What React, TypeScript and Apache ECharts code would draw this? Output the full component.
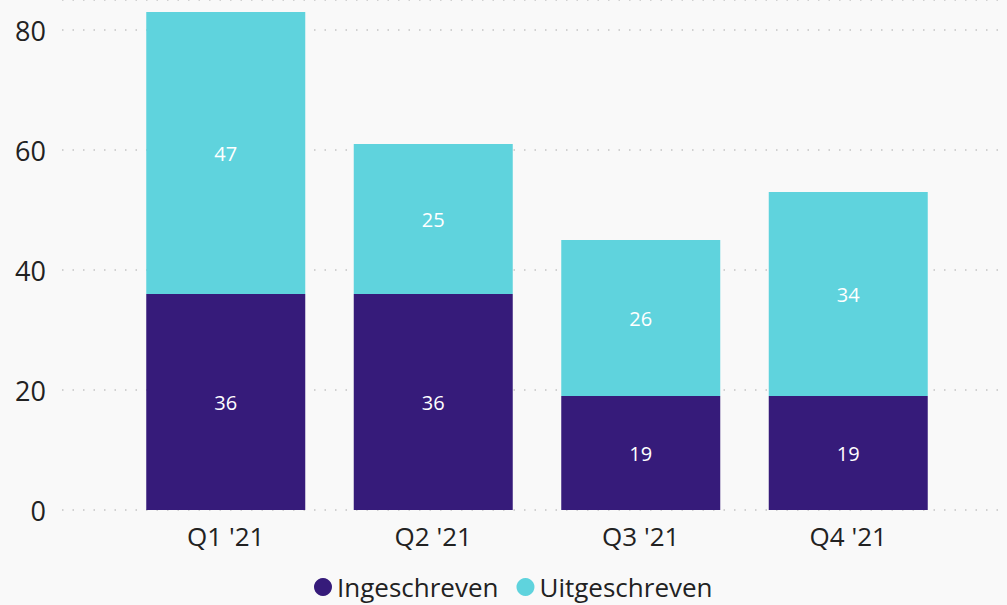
import React, { useEffect, useRef } from "react";
import * as echarts from "echarts";

const categories = ["Q1 '21", "Q2 '21", "Q3 '21", "Q4 '21"];
const ingeschreven = [36, 36, 19, 19];
const uitgeschreven = [47, 25, 26, 34];
const yTicks = [0, 20, 40, 60, 80];

const FONT = "'Segoe UI', 'Open Sans', 'Noto Sans', sans-serif";

export default function App() {
  const ref = useRef<HTMLDivElement>(null);
  useEffect(() => {
    document.body.style.margin = "0";
    const chart = echarts.init(ref.current!, null, { renderer: "svg" });
    chart.setOption({
      animation: false,
      backgroundColor: "#f9f9f9",
      legend: {
        left: 314,
        top: 574,
        padding: 0,
        itemGap: 18,
        itemWidth: 18,
        itemHeight: 18,
        icon: "circle",
        textStyle: { fontFamily: FONT, fontSize: 26, lineHeight: 26, color: "#222" },
        data: ["Ingeschreven", "Uitgeschreven"],
      },
      grid: [
        { left: 122, right: 55, top: 0, bottom: 95 },
        { left: 62, right: 0, top: 0, bottom: 95 },
      ],
      xAxis: [
        {
          type: "category",
          gridIndex: 0,
          data: categories,
          axisLine: { show: false },
          axisTick: { show: false },
          axisLabel: { fontFamily: FONT, fontSize: 26, color: "#222", margin: 13 },
        },
        { type: "value", gridIndex: 1, show: false, min: 0, max: 1 },
      ],
      yAxis: [
        { type: "value", gridIndex: 0, min: 0, max: 85, show: false, splitLine: { show: false } },
        {
          type: "value",
          gridIndex: 1,
          min: 0,
          max: 85,
          interval: 20,
          axisLine: { show: false },
          axisTick: { show: false },
          axisLabel: {
            fontFamily: FONT,
            fontSize: 27,
            color: "#222",
            margin: 16,
            formatter: (v: number) => (yTicks.includes(v) ? String(v) : ""),
          },
          splitLine: { show: true, lineStyle: { color: "#c4c4c4", width: 1.5, type: [1.5, 9] } },
        },
      ],
      series: [
        {
          name: "Ingeschreven",
          type: "bar",
          stack: "total",
          xAxisIndex: 0,
          yAxisIndex: 0,
          data: ingeschreven,
          barWidth: 159,
          itemStyle: { color: "#361B7A" },
          label: { show: true, position: "inside", color: "#fff", fontFamily: FONT, fontSize: 20 },
          z: 3,
        },
        {
          name: "Uitgeschreven",
          type: "bar",
          stack: "total",
          xAxisIndex: 0,
          yAxisIndex: 0,
          data: uitgeschreven,
          barWidth: 159,
          itemStyle: { color: "#5FD3DD" },
          label: { show: true, position: "inside", color: "#fff", fontFamily: FONT, fontSize: 20 },
          z: 3,
        },
      ],
    });
    return () => chart.dispose();
  }, []);
  return <div ref={ref} style={{ width: 1007, height: 605 }} />;
}
